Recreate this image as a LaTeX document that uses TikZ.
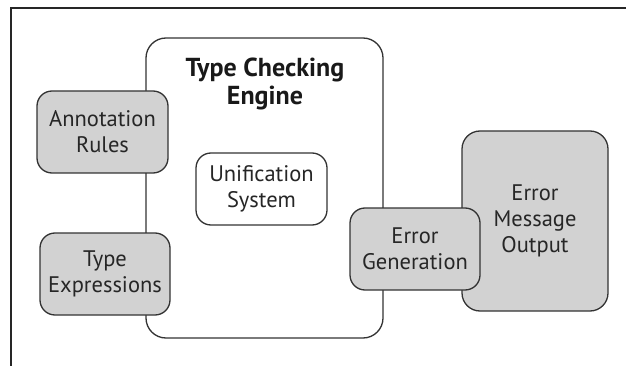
\documentclass[tikz,border=0pt]{standalone}
\usepackage{fontspec}
\setmainfont{PT Sans}
\begin{document}
\begin{tikzpicture}[x=1pt,y=-1pt,
  boxbase/.style={draw=black!80, line width=1.3pt, rectangle, inner sep=0pt, align=center,
    font=\fontsize{22.5}{26}\selectfont, text=black!85},
  graybox/.style={boxbase, fill=gray!35!white, rounded corners=15pt},
  whitebox/.style={boxbase, fill=white, rounded corners=15pt},
  titletext/.style={font=\bfseries\fontsize{26}{28}\selectfont, align=center, text=black!90}]
\useasboundingbox (0,0) rectangle (626,366);
\draw[line width=1.2pt, black!85] (11,366) -- (11,8) -- (626,8);
\node[whitebox, rounded corners=20pt, minimum width=237pt, minimum height=300pt] (engine) at (264.5,188) {};
\node[titletext] (title) at (265,84) {Type Checking\\Engine};
\node[whitebox, minimum width=131pt, minimum height=72pt] (uni) at (261.5,189) {Unification\\System};
\node[graybox, minimum width=131pt, minimum height=82pt] (ann) at (102.5,132) {Annotation\\Rules};
\node[graybox, minimum width=130pt, minimum height=82pt] (typ) at (105,274) {Type\\Expressions};
\node[graybox, rounded corners=18pt, minimum width=146pt, minimum height=180pt] (msg) at (535,221) {Error\\Message\\Output};
\node[graybox, minimum width=130pt, minimum height=82pt] (gen) at (415,249) {Error\\Generation};
\end{tikzpicture}
\end{document}
